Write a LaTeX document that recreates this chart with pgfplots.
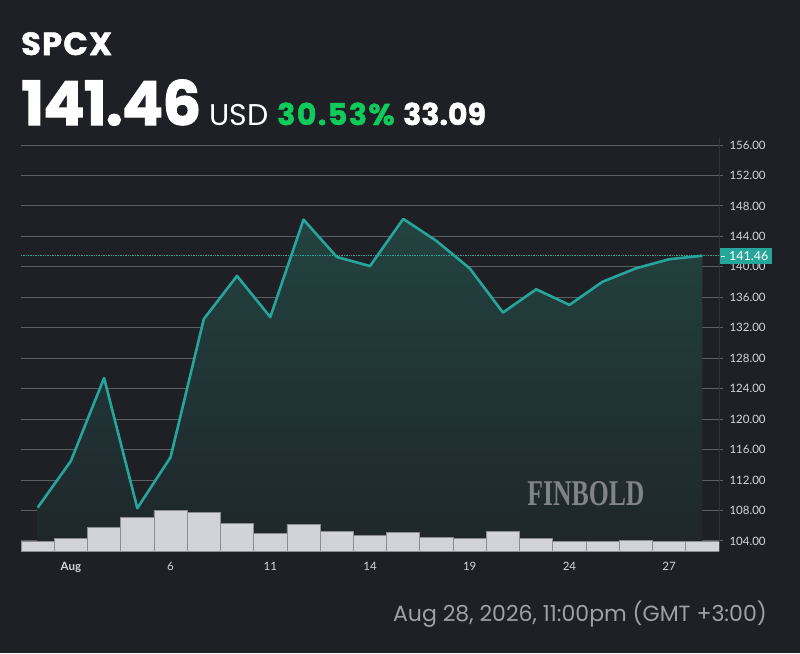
\documentclass[border=0pt]{standalone}
\usepackage{pgfplots}
\pgfplotsset{compat=1.18}
\usepackage{fontspec}
\setmainfont{Poppins}
\newfontfamily\tickfont{Lato}
\newfontfamily\wmfont{Liberation Serif}
\definecolor{bg}{RGB}{30,32,37}
\definecolor{linecol}{RGB}{38,166,154}
\definecolor{gridcol}{RGB}{92,94,98}
\definecolor{axcol}{RGB}{48,50,55}
\definecolor{ticktext}{RGB}{212,214,218}
\definecolor{barfill}{RGB}{210,210,217}
\definecolor{baredge}{RGB}{140,140,148}
\definecolor{upgreen}{RGB}{14,203,91}
\definecolor{foot}{RGB}{160,161,166}
\definecolor{wm}{RGB}{128,131,135}
\definecolor{filltop}{RGB}{34,66,64}
\definecolor{fillbot}{RGB}{31,38,42}

\pgfplotsset{
  base/.style={at={(21pt,-551pt)}, anchor=south west, scale only axis,
    width=698pt, height=413.6pt, xmin=-0.5, xmax=20.5},
}

\begin{document}
\begin{tikzpicture}
\fill[bg] (0,0) rectangle (800pt,-653pt);

% header
\node[anchor=base west, inner sep=0, text=white, font=\fontsize{32}{32}\selectfont\bfseries\addfontfeatures{FakeBold=1.6,LetterSpace=4}] at (21pt,-55pt) {SPCX};
\node[anchor=base west, inner sep=0, text=white, font=\fontsize{61}{61}\selectfont\bfseries\addfontfeatures{FakeBold=1.8,LetterSpace=-1.5}] at (21pt,-125pt) {141.46};
\node[anchor=base west, inner sep=0, text=white, font=\fontsize{30}{30}\selectfont] at (209pt,-125pt) {USD};
\node[anchor=base west, inner sep=0, text=upgreen, font=\fontsize{30}{30}\selectfont\bfseries\addfontfeatures{FakeBold=1.6,LetterSpace=5}] at (277pt,-125pt) {30.53\%};
\node[anchor=base west, inner sep=0, text=white, font=\fontsize{30}{30}\selectfont\bfseries\addfontfeatures{FakeBold=1.6}] at (403pt,-125pt) {33.09};

% footer
\node[anchor=base east, inner sep=0, text=foot, font=\fontsize{22}{22}\selectfont] at (767pt,-621pt) {Aug 28, 2026, 11:00pm (GMT +3:00)};

% price axis: grid, ticks, fill
\begin{axis}[base, ymin=102.68, ymax=157,
  axis x line=none, axis y line*=right,
  y axis line style={draw=axcol, line width=1pt, -},
  ytick={104,108,...,156},
  ymajorgrids, grid style={gridcol, line width=1pt},
  tick align=outside, major tick length=4pt, tick style={gridcol, line width=1pt},
  /pgf/number format/assume math mode=true,
  yticklabel style={font=\tickfont\fontsize{11.5}{12}\selectfont, text=ticktext, xshift=3pt,
    /pgf/number format/fixed, /pgf/number format/fixed zerofill, /pgf/number format/precision=2},
  ]
\addplot[draw=none, top color=filltop, bottom color=fillbot] coordinates {
 (0,108.37) (1,114.5) (2,125.4) (3,108.3) (4,115.0) (5,133.15) (6,138.8) (7,133.4)
 (8,146.2) (9,141.3) (10,140.1) (11,146.3) (12,143.4) (13,139.8) (14,134.0)
 (15,137.05) (16,135.0) (17,138.05) (18,139.8) (19,141.0) (20,141.46)
} -- (axis cs:20,102.68) -- (axis cs:0,102.68) -- cycle;
\end{axis}

% volume axis
\begin{axis}[base, ymin=0, ymax=413.6,
  axis line style={draw=none}, ytick=\empty,
  xtick={1,4,7,10,13,16,19},
  xticklabels={\textbf{Aug},6,11,14,19,24,27},
  major tick length=0pt,
  xticklabel style={font=\tickfont\fontsize{11.5}{12}\selectfont, text=ticktext, yshift=-8pt},
  ]
\addplot[ybar, bar width=33.24pt, fill=barfill, draw=baredge, line width=0.8pt] coordinates {
 (0,10) (1,12.4) (2,23.4) (3,33.7) (4,40.7) (5,38.7) (6,28) (7,18) (8,26.7) (9,19.7)
 (10,15.7) (11,18.7) (12,13.7) (13,12.7) (14,19.7) (15,12.7) (16,10) (17,9.3)
 (18,10.7) (19,9.3) (20,9.3)
};
\end{axis}

% watermark
\node[text=wm, inner sep=0] at (586pt,-494pt) {\resizebox{117pt}{24pt}{\wmfont\bfseries FINBOLD}};

% price line on top
\begin{axis}[base, ymin=102.68, ymax=157, hide axis, clip=false]
\addplot[linecol, densely dotted, line width=0.7pt] coordinates {(-0.5,141.46) (20.5,141.46)};
\addplot[linecol, line width=2.6pt, line join=round] coordinates {
 (0,108.37) (1,114.5) (2,125.4) (3,108.3) (4,115.0) (5,133.15) (6,138.8) (7,133.4)
 (8,146.2) (9,141.3) (10,140.1) (11,146.3) (12,143.4) (13,139.8) (14,134.0)
 (15,137.05) (16,135.0) (17,138.05) (18,139.8) (19,141.0) (20,141.46)
};
\node[fill=linecol, anchor=west, inner sep=0pt, minimum height=16pt, minimum width=52pt,
  text=white, font=\tickfont\fontsize{12.5}{13}\selectfont, xshift=1pt]
  at (axis cs:20.5,141.46) {\textcolor{white!80!linecol}{\rule[3.5pt]{4pt}{1pt}}\hspace*{4pt}141.46\hspace*{3pt}};
\end{axis}
\end{tikzpicture}
\end{document}
